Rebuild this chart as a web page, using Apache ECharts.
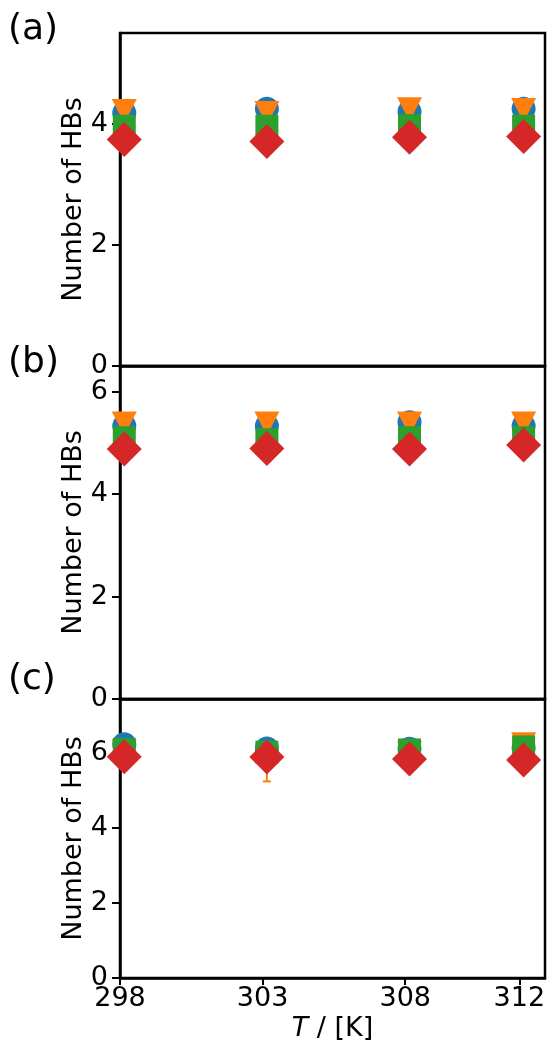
<!DOCTYPE html>
<html><head><meta charset="utf-8">
<script src="https://cdn.jsdelivr.net/npm/echarts@6/dist/echarts.min.js"></script>
<style>html,body{margin:0;padding:0;background:#fff}#c{width:547px;height:1049px}</style>
</head><body><div id="c"></div>
<script>
// Data
const temps = [298.15, 303.15, 308.15, 312.15];
const xTicks = [298, 303, 308, 312];
const panelLabels = ['(a)', '(b)', '(c)'];
const yTicksA = [0, 2, 4];
const yTicksB = [0, 2, 4, 6];
const yTicksC = [0, 2, 4, 6];

// panel (a)
const aBlue   = [4.18, 4.25, 4.20, 4.25];
const aOrange = [4.21, 4.18, 4.24, 4.23];
const aGreen  = [3.96, 3.96, 3.97, 3.96];
const aRed    = [3.74, 3.71, 3.78, 3.79];
const aOrangeErr = [0.05, 0.05, 0.05, 0.05];
// panel (b)
const bBlue   = [5.33, 5.33, 5.40, 5.33];
const bOrange = [5.38, 5.38, 5.38, 5.38];
const bGreen  = [5.10, 5.06, 5.10, 5.10];
const bRed    = [4.88, 4.89, 4.88, 4.96];
const bOrangeErr = [0.05, 0.05, 0.05, 0.05];
// panel (c)
const cBlue   = [6.24, 6.13, 6.12, 6.15];
const cOrange = [6.05, 5.75, 6.00, 6.24];
const cGreen  = [6.10, 6.03, 6.09, 6.17];
const cRed    = [5.91, 5.90, 5.85, 5.82];
const cOrangeErr = [0.05, 0.50, 0.05, 0.05];

const COLORS = ['#1f77b4', '#ff7f0e', '#2ca02c', '#d62728'];
const FONT = 'DejaVu Sans';

const chart = echarts.init(document.getElementById('c'));

const grids = [
  {left: 120, top: 33, width: 425, height: 333},
  {left: 120, top: 366, width: 425, height: 333},
  {left: 120, top: 699, width: 425, height: 279}
].map(g => Object.assign(g, {show: true, borderColor: '#000', borderWidth: 2.5,
  backgroundColor: 'transparent', containLabel: false, outerBoundsMode: 'none'}));

const yMax = [5.5, 6.5, 7.45];
const yTicks = [yTicksA, yTicksB, yTicksC];

const xAxes = [0, 1, 2].map(i => ({
  type: 'value', gridIndex: i, min: 298, max: 312.9,
  splitLine: {show: false},
  axisLine: {show: true, lineStyle: {color: '#000', width: 2.5}},
  axisTick: {show: i === 2, length: 7, lineStyle: {color: '#000', width: 2}, customValues: xTicks},
  axisLabel: {show: i === 2, color: '#000', fontFamily: FONT, fontSize: 27, margin: 7, customValues: xTicks},
  name: i === 2 ? '{it|T} / [K]' : '',
  nameLocation: 'middle', nameGap: 37, nameMoveOverlap: false,
  nameTextStyle: {color: '#000', fontFamily: FONT, fontSize: 27,
    rich: {it: {fontStyle: 'italic', fontFamily: FONT, fontSize: 27, color: '#000'}}}
}));

const yAxes = [0, 1, 2].map(i => ({
  type: 'value', gridIndex: i, min: 0, max: yMax[i],
  splitLine: {show: false},
  axisLine: {show: true, lineStyle: {color: '#000', width: 2.5}},
  axisTick: {show: true, length: 8, lineStyle: {color: '#000', width: 2}, customValues: yTicks[i]},
  axisLabel: {color: '#000', fontFamily: FONT, fontSize: 27, margin: 12, customValues: yTicks[i]},
  name: 'Number of HBs', nameLocation: 'middle', nameGap: 33, nameRotate: 90, nameMoveOverlap: false,
  nameTextStyle: {color: '#000', fontFamily: FONT, fontSize: 27}
}));

const panels = [
  [aBlue, aOrange, aGreen, aRed, aOrangeErr],
  [bBlue, bOrange, bGreen, bRed, bOrangeErr],
  [cBlue, cOrange, cGreen, cRed, cOrangeErr]
];

function pts(arr) { return temps.map((t, k) => [t, arr[k]]); }

const series = [];
panels.forEach((p, i) => {
  const [blue, orange, green, red, oerr] = p;
  series.push({type: 'scatter', xAxisIndex: i, yAxisIndex: i, data: pts(blue),
    symbol: 'circle', symbolSize: 24, itemStyle: {color: COLORS[0], opacity: 1}, z: 2, clip: true});
  series.push({type: 'custom', xAxisIndex: i, yAxisIndex: i, z: 3, clip: true,
    data: temps.map((t, k) => [t, orange[k], oerr[k]]),
    renderItem: function (params, api) {
      const x = api.value(0), y = api.value(1), e = api.value(2);
      const lo = api.coord([x, y - e]);
      const hi = api.coord([x, y + e]);
      const cw = 4;
      const st = {stroke: COLORS[1], lineWidth: 2};
      return {type: 'group', children: [
        {type: 'line', shape: {x1: lo[0], y1: lo[1], x2: hi[0], y2: hi[1]}, style: st},
        {type: 'line', shape: {x1: lo[0] - cw, y1: lo[1], x2: lo[0] + cw, y2: lo[1]}, style: st},
        {type: 'line', shape: {x1: hi[0] - cw, y1: hi[1], x2: hi[0] + cw, y2: hi[1]}, style: st}
      ]};
    }});
  series.push({type: 'scatter', xAxisIndex: i, yAxisIndex: i, data: pts(orange),
    symbol: 'triangle', symbolRotate: 180, symbolSize: [25, 24], itemStyle: {color: COLORS[1], opacity: 1}, z: 3, clip: true});
  series.push({type: 'scatter', xAxisIndex: i, yAxisIndex: i, data: pts(green),
    symbol: 'rect', symbolSize: 23, itemStyle: {color: COLORS[2], opacity: 1}, z: 4, clip: true});
  series.push({type: 'scatter', xAxisIndex: i, yAxisIndex: i, data: pts(red),
    symbol: 'diamond', symbolSize: [35, 35], itemStyle: {color: COLORS[3], opacity: 1}, z: 5, clip: true});
});

const labelTops = [12, 345, 662];
const graphic = panelLabels.map((t, i) => ({
  type: 'text', left: 8, top: labelTops[i],
  style: {text: t, fontFamily: FONT, fontSize: 36, fill: '#000'}
}));

chart.setOption({
  animation: false,
  grid: grids,
  xAxis: xAxes,
  yAxis: yAxes,
  series: series,
  graphic: graphic
});
</script></body></html>
